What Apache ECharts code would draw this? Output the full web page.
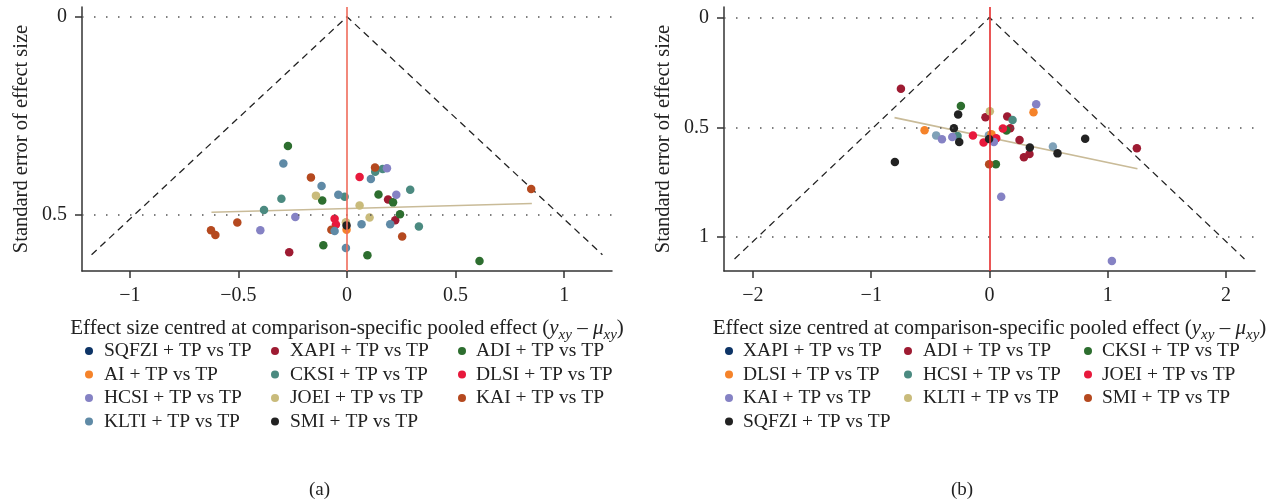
<!DOCTYPE html>
<html>
<head>
<meta charset="utf-8">
<script src="https://cdn.jsdelivr.net/npm/echarts@6/dist/echarts.min.js"></script>
<style>
html,body{margin:0;padding:0;background:#fff;}
#chart{width:1274px;height:504px;}
</style>
</head>
<body>
<div id="chart"></div>
<script>
// ---------- Panel (a) data: [centred effect size, standard error] ----------
const A_NAMES = ['SQFZI + TP vs TP','XAPI + TP vs TP','ADI + TP vs TP','AI + TP vs TP','CKSI + TP vs TP','DLSI + TP vs TP','HCSI + TP vs TP','JOEI + TP vs TP','KAI + TP vs TP','KLTI + TP vs TP','SMI + TP vs TP'];
const A_SQFZI = [];
const A_XAPI = [[0.189,0.461],[0.222,0.513],[-0.266,0.594]];
const A_ADI = [[-0.272,0.326],[-0.114,0.463],[0.145,0.448],[0.212,0.468],[0.244,0.498],[-0.109,0.576],[0.094,0.601],[0.610,0.616]];
const A_AI = [[-0.002,0.537]];
const A_CKSI = [[-0.011,0.454],[-0.302,0.459],[0.130,0.391],[0.164,0.384],[-0.382,0.487],[0.291,0.436],[0.331,0.529]];
const A_DLSI = [[0.058,0.404],[-0.057,0.509],[-0.051,0.524]];
const A_HCSI = [[0.184,0.382],[0.227,0.449],[-0.238,0.505],[-0.399,0.538]];
const A_JOEI = [[-0.143,0.451],[0.058,0.476],[0.104,0.506],[-0.005,0.518]];
const A_KAI = [[-0.166,0.405],[0.129,0.380],[0.848,0.434],[-0.505,0.519],[-0.626,0.538],[-0.606,0.550],[-0.072,0.537],[0.254,0.554]];
const A_KLTI = [[-0.293,0.370],[-0.117,0.427],[-0.040,0.449],[0.110,0.409],[0.067,0.523],[0.199,0.523],[-0.057,0.540],[-0.005,0.583]];
const A_SMI = [[-0.002,0.526]];
const A_REG = [[-0.624,0.493],[0.851,0.471]];
const A_FUNNEL = [[-1.176,0.6],[0,0],[1.176,0.6]];
const A_XTICKS = [-1,-0.5,0,0.5,1];
const A_YTICKS = [0,0.5];

// ---------- Panel (b) data ----------
const B_NAMES = ['XAPI + TP vs TP','ADI + TP vs TP','CKSI + TP vs TP','DLSI + TP vs TP','HCSI + TP vs TP','JOEI + TP vs TP','KAI + TP vs TP','KLTI + TP vs TP','SMI + TP vs TP','SQFZI + TP vs TP'];
const B_OTHER = [[-0.451,0.537],[-0.005,0.536],[0.536,0.588]];
const B_XAPI = [];
const B_ADI = [[-0.749,0.325],[-0.034,0.454],[0.150,0.451],[0.175,0.505],[0.254,0.558],[0.338,0.622],[0.291,0.637],[1.246,0.596]];
const B_CKSI = [[-0.242,0.403],[0.144,0.515],[0.054,0.669]];
const B_DLSI = [[-0.549,0.514],[0.017,0.532],[0.372,0.432]];
const B_HCSI = [[-0.270,0.540],[0.195,0.467]];
const B_JOEI = [[-0.140,0.538],[-0.050,0.569],[0.057,0.550],[0.113,0.506]];
const B_KAI = [[-0.402,0.555],[-0.315,0.544],[0.037,0.567],[0.099,0.817],[0.395,0.395],[1.035,1.109]];
const B_KLTI = [[0.003,0.427]];
const B_SMI = [[-0.003,0.669]];
const B_SQFZI = [[-0.800,0.658],[-0.265,0.442],[-0.301,0.505],[-0.256,0.567],[-0.003,0.553],[0.341,0.592],[0.575,0.619],[0.809,0.552]];
const B_REG = [[-0.803,0.456],[1.251,0.689]];
const B_FUNNEL = [[-2.156,1.1],[0,0],[2.156,1.1]];
const B_XTICKS = [-2,-1,0,1,2];
const B_YTICKS = [0,0.5,1];

// ---------- styling ----------
const FONT = 'Liberation Serif';
const PAL_A = ['#0d3466','#9e1b32','#2d6e2f','#f5832a','#4b8a80','#e8193c','#8582c4','#c9bb7b','#b5491f','#5f8aa6','#222222'];
const PAL_B = ['#0d3466','#9e1b32','#2d6e2f','#f5832a','#4b8a80','#e8193c','#8582c4','#c9bb7b','#b5491f','#222222'];
const A_DATA = [A_SQFZI,A_XAPI,A_ADI,A_AI,A_CKSI,A_DLSI,A_HCSI,A_JOEI,A_KAI,A_KLTI,A_SMI];
const B_DATA = [B_XAPI,B_ADI,B_CKSI,B_DLSI,B_HCSI,B_JOEI,B_KAI,B_KLTI,B_SMI,B_SQFZI];

const minus = v => String(v).replace('-', '\u2212');

function xAxisCfg(idx, min, max, ticks) {
  return {
    type: 'value', gridIndex: idx, min: min, max: max,
    splitLine: {show: false},
    axisLine: {show: true, onZero: false, lineStyle: {color: '#333', width: 1.5}},
    axisTick: {show: true, length: 7, inside: false, customValues: ticks, lineStyle: {color: '#333', width: 1.5}},
    axisLabel: {customValues: ticks, formatter: minus, fontFamily: FONT, fontSize: 20, color: '#222', margin: 15},
    nameLocation: 'middle', nameGap: 42,
    name: '{n|Effect size centred at comparison-specific pooled effect (}{i|y}{s|xy}{n| \u2013 }{i|\u03bc}{s|xy}{n|)}',
    nameTextStyle: {
      rich: {
        n: {fontFamily: FONT, fontSize: 21, color: '#222', lineHeight: 30, verticalAlign: 'middle'},
        i: {fontFamily: FONT, fontSize: 21, color: '#222', fontStyle: 'italic', lineHeight: 30, verticalAlign: 'middle'},
        s: {fontFamily: FONT, fontSize: 15, color: '#222', fontStyle: 'italic', lineHeight: 30, verticalAlign: 'bottom'}
      }
    }
  };
}
function yAxisCfg(idx, min, max, ticks) {
  return {
    type: 'value', gridIndex: idx, min: min, max: max, inverse: true,
    splitLine: {show: false},
    axisLine: {show: true, onZero: false, lineStyle: {color: '#333', width: 1.5}},
    axisTick: {show: true, length: 7, customValues: ticks, lineStyle: {color: '#333', width: 1.5}},
    axisLabel: {customValues: ticks, fontFamily: FONT, fontSize: 20, color: '#222', margin: 15},
    name: 'Standard error of effect size', nameLocation: 'middle', nameRotate: 90, nameGap: 50,
    nameTextStyle: {fontFamily: FONT, fontSize: 20.5, color: '#222'}
  };
}

const series = [];
function guides(idx, funnel, reg, yticks, redColor) {
  series.push({
    type: 'line', xAxisIndex: idx, yAxisIndex: idx, data: funnel, symbol: 'none', silent: true,
    lineStyle: {color: '#222', width: 1.3, type: [7, 5]}, z: 1,
    markLine: {
      silent: true, symbol: 'none', label: {show: false}, animation: false,
      data: yticks.map(v => ({yAxis: v, lineStyle: {color: '#555', width: 1.5, type: [1.5, 10.5]}}))
        .concat([{xAxis: 0, lineStyle: {color: redColor, width: 1.6, type: 'solid'}}])
    }
  });
  series.push({
    type: 'line', xAxisIndex: idx, yAxisIndex: idx, data: reg, symbol: 'none', silent: true,
    lineStyle: {color: '#c9bb98', width: 1.6}, z: 1
  });
}
guides(0, A_FUNNEL, A_REG, A_YTICKS, '#ef6b5b');
guides(1, B_FUNNEL, B_REG, B_YTICKS, '#e52b2b');

A_NAMES.forEach((n, i) => series.push({
  type: 'scatter', name: n, xAxisIndex: 0, yAxisIndex: 0, data: A_DATA[i],
  symbolSize: 8.5, itemStyle: {color: PAL_A[i], opacity: 1}, z: 3
}));
series.push({
  type: 'scatter', name: 'b:other', xAxisIndex: 1, yAxisIndex: 1, data: B_OTHER,
  symbolSize: 8.5, itemStyle: {color: '#5f8aa6'}, z: 3
});
B_NAMES.forEach((n, i) => series.push({
  type: 'scatter', name: 'b:' + n, xAxisIndex: 1, yAxisIndex: 1, data: B_DATA[i],
  symbolSize: 8.5, itemStyle: {color: PAL_B[i], opacity: 1}, z: 3
}));

function legendCol(left, top, names, pad) {
  return {
    orient: 'vertical', left: left, top: top, data: names,
    icon: 'circle', itemWidth: 8, itemHeight: 8, itemGap: 3.5,
    selectedMode: false,
    formatter: n => n.replace(/^b:/, ''),
    textStyle: {fontFamily: FONT, fontSize: 19.5, color: '#222', lineHeight: 20, padding: [0, 0, 0, pad]}
  };
}
const legends = [
  legendCol(80, 336, [A_NAMES[0], A_NAMES[3], A_NAMES[6], A_NAMES[9]], 6),
  legendCol(266, 336, [A_NAMES[1], A_NAMES[4], A_NAMES[7], A_NAMES[10]], 6),
  legendCol(453, 336, [A_NAMES[2], A_NAMES[5], A_NAMES[8]], 5),
  legendCol(720, 336, ['b:' + B_NAMES[0], 'b:' + B_NAMES[3], 'b:' + B_NAMES[6], 'b:' + B_NAMES[9]], 5),
  legendCol(899, 336, ['b:' + B_NAMES[1], 'b:' + B_NAMES[4], 'b:' + B_NAMES[7]], 6),
  legendCol(1079, 336, ['b:' + B_NAMES[2], 'b:' + B_NAMES[5], 'b:' + B_NAMES[8]], 5)
];

const chart = echarts.init(document.getElementById('chart'), null, {renderer: 'canvas'});
chart.setOption({
  animation: false,
  backgroundColor: '#fff',
  grid: [
    {left: 82, top: 7, width: 530, height: 264},
    {left: 724, top: 7, width: 531, height: 264}
  ],
  xAxis: [xAxisCfg(0, -1.22, 1.22, A_XTICKS), xAxisCfg(1, -2.245, 2.245, B_XTICKS)],
  yAxis: [yAxisCfg(0, -0.0245, 0.641, A_YTICKS), yAxisCfg(1, -0.048, 1.155, B_YTICKS)],
  legend: legends,
  graphic: [
    {type: 'text', left: 309, top: 481, style: {text: '(a)', font: '19px "Liberation Serif"', fill: '#222'}},
    {type: 'text', left: 951, top: 481, style: {text: '(b)', font: '19px "Liberation Serif"', fill: '#222'}}
  ],
  series: series
});
</script>
</body>
</html>
